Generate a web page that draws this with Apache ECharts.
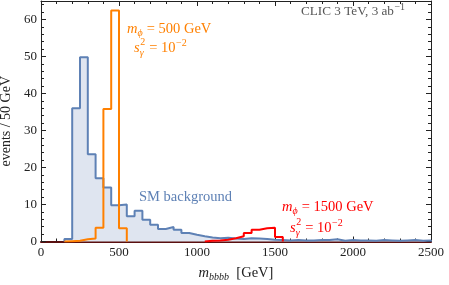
<!DOCTYPE html>
<html><head><meta charset="utf-8">
<script src="https://cdn.jsdelivr.net/npm/echarts@6/dist/echarts.min.js"></script>
<style>html,body{margin:0;padding:0;background:#fff}#c{width:449px;height:285px}</style>
</head><body><div id="c"></div>
<script>
// ---- data (events / 50 GeV) ----
const binWidth = 50;
const smStart = 150;
const smValues = [0.7, 36, 49.8, 23.6, 17.1, 14.6, 9.8, 10.0, 6.8, 8.3, 5.9, 4.5, 3.4, 3.9, 3.2, 2.3, 1.8, 1.4, 1.1, 0.9, 1.0, 0.8, 0.7, 0.9, 0.8, 0.7, 0.5, 0.4, 0.3, 0.4, 0.3, 0.3, 0.4, 0.4, 0.6, 0.2, 0.4, 0.3, 0.3, 0.2, 0.4, 0.3, 0.2, 0.3, 0.4, 0.2, 0.3];
const sig500Start = 150;
const sig500Values = [0.1, 0.2, 0.6, 0.8, 3.7, 35.8, 62.4, 3.6];
const sig1500Start = 1050;
const sig1500Values = [0.2, 0.3, 0.5, 0.9, 1.4, 2.3, 3.2, 3.6, 3.7, 1.2];
const xTicks = [0, 500, 1000, 1500, 2000, 2500];
const yTicks = [0, 10, 20, 30, 40, 50, 60];

function stepData(start, vals) {
  const pts = [[start, 0]];
  vals.forEach((v, i) => pts.push([start + i * binWidth, v]));
  const end = start + vals.length * binWidth;
  pts.push([end, vals[vals.length - 1]]);
  pts.push([end, 0]);
  return pts;
}

const SERIF = '"Liberation Serif", "DejaVu Serif", serif';
const ctx = document.createElement('canvas').getContext('2d');
function tw(t, size, italic) { ctx.font = (italic ? 'italic ' : '') + size + 'px ' + SERIF; return ctx.measureText(t).width; }
function txt(t, x, y, size, italic, color) {
  return { type: 'text', silent: true, z: 100, style: { text: t, x: x, y: y, fontSize: size, fontFamily: SERIF, fontStyle: italic ? 'italic' : 'normal', fill: color, align: 'left', verticalAlign: 'middle' } };
}
// parts: {t, i, sub, sup, stack:{sub, subI, sup}}
function mathLine(x0, y, color, parts, size) {
  size = size || 14;
  const els = []; let x = x0;
  const ss = Math.round(size * 0.72);
  parts.forEach(p => {
    if (p.stack) {
      els.push(txt(p.stack.sup, x + 0.5, y - 6, ss, false, color));
      els.push(txt(p.stack.sub, x, y + 5, ss, p.stack.subI, color));
      x += Math.max(tw(p.stack.sup, ss, false), tw(p.stack.sub, ss, p.stack.subI)) + 1;
    } else if (p.sub) {
      els.push(txt(p.t, x, y + 4, ss, p.i, color)); x += tw(p.t, ss, p.i) + 0.5;
    } else if (p.sup) {
      els.push(txt(p.t, x + 0.5, y - 5, ss, p.i, color)); x += tw(p.t, ss, p.i);
    } else {
      els.push(txt(p.t, x, y, size, p.i, color)); x += tw(p.t, size, p.i);
    }
  });
  return els;
}

const BLUE = '#5e81b5', ORANGE = '#ff8000', RED = '#ff0000';
const graphics = [].concat(
  mathLine(301, 12, '#555', [{ t: 'CLIC 3 TeV, 3 ab' }, { t: '\u22121', sup: true }], 13.2),
  mathLine(127, 29, ORANGE, [{ t: 'm', i: true }, { t: '\u03d5', i: true, sub: true }, { t: ' = 500 GeV' }], 14.5),
  mathLine(134, 48, ORANGE, [{ t: 's', i: true }, { stack: { sup: '2', sub: '\u03b3', subI: true } }, { t: ' = 10' }, { t: '\u22122', sup: true }], 14.5),
  [txt('SM background', 139, 197, 14.5, false, BLUE)],
  mathLine(282, 207, RED, [{ t: 'm', i: true }, { t: '\u03d5', i: true, sub: true }, { t: ' = 1500 GeV' }], 14.5),
  mathLine(290, 228, RED, [{ t: 's', i: true }, { stack: { sup: '2', sub: '\u03b3', subI: true } }, { t: ' = 10' }, { t: '\u22122', sup: true }], 14.5)
);

const frameColor = '#222';
function xAx(pos, labels) {
  return {
    type: 'value', position: pos, min: xTicks[0], max: xTicks[xTicks.length - 1], interval: xTicks[1] - xTicks[0],
    axisLine: { show: true, onZero: false, lineStyle: { color: pos === 'bottom' ? '#5a0f0f' : frameColor, width: pos === 'bottom' ? 2 : 1 } },
    axisTick: { show: true, inside: true, length: 5, lineStyle: { color: frameColor } },
    minorTick: { show: true, splitNumber: 5, length: 3, lineStyle: { color: frameColor } },
    splitLine: { show: false },
    axisLabel: { show: labels, fontFamily: SERIF, fontSize: 13, color: '#222', margin: 5, formatter: v => String(v) },
    name: labels ? '{i|m}{s|bbbb}{n|  [GeV]}' : '', nameLocation: 'middle', nameGap: 23,
    nameTextStyle: { rich: {
      i: { fontFamily: SERIF, fontSize: 14.5, fontStyle: 'italic', color: '#222', lineHeight: 18 },
      s: { fontFamily: SERIF, fontSize: 10, fontStyle: 'italic', color: '#222', verticalAlign: 'bottom', lineHeight: 10 },
      n: { fontFamily: SERIF, fontSize: 14.5, color: '#222', lineHeight: 18 } } }
  };
}
function yAx(pos, labels) {
  return {
    type: 'value', position: pos, min: 0, max: 65, interval: yTicks[1] - yTicks[0],
    axisLine: { show: true, onZero: false, lineStyle: { color: frameColor } },
    axisTick: { show: true, inside: true, length: 5, lineStyle: { color: frameColor } },
    minorTick: { show: true, splitNumber: 5, length: 3, lineStyle: { color: frameColor } },
    splitLine: { show: false },
    axisLabel: { show: labels, showMaxLabel: false, fontFamily: SERIF, fontSize: 13, color: '#222', margin: 4,
      formatter: v => (yTicks.indexOf(v) >= 0 ? String(v) : '') },
    name: labels ? 'events / 50 GeV' : '', nameLocation: 'middle', nameGap: 26,
    nameTextStyle: { fontFamily: SERIF, fontSize: 14, color: '#222' }
  };
}

const chart = echarts.init(document.getElementById('c'), null, { renderer: 'canvas' });
chart.setOption({
  animation: false,
  backgroundColor: '#fff',
  grid: { left: 41, right: 18, top: 1, bottom: 43.5, containLabel: false, outerBoundsMode: 'none' },
  xAxis: [xAx('bottom', true), xAx('top', false)],
  yAxis: [yAx('left', true), yAx('right', false)],
  series: [
    { type: 'line', step: 'end', symbol: 'none', data: stepData(smStart, smValues),
      lineStyle: { color: BLUE, width: 2 }, areaStyle: { color: '#dfe5f0', opacity: 1 }, z: 1 },
    { type: 'line', step: 'end', symbol: 'none', data: stepData(sig500Start, sig500Values),
      lineStyle: { color: ORANGE, width: 2 }, z: 3 },
    { type: 'line', step: 'end', symbol: 'none', data: stepData(sig1500Start, sig1500Values),
      lineStyle: { color: RED, width: 2 }, z: 3 }
  ],
  graphic: graphics
});
</script></body></html>
